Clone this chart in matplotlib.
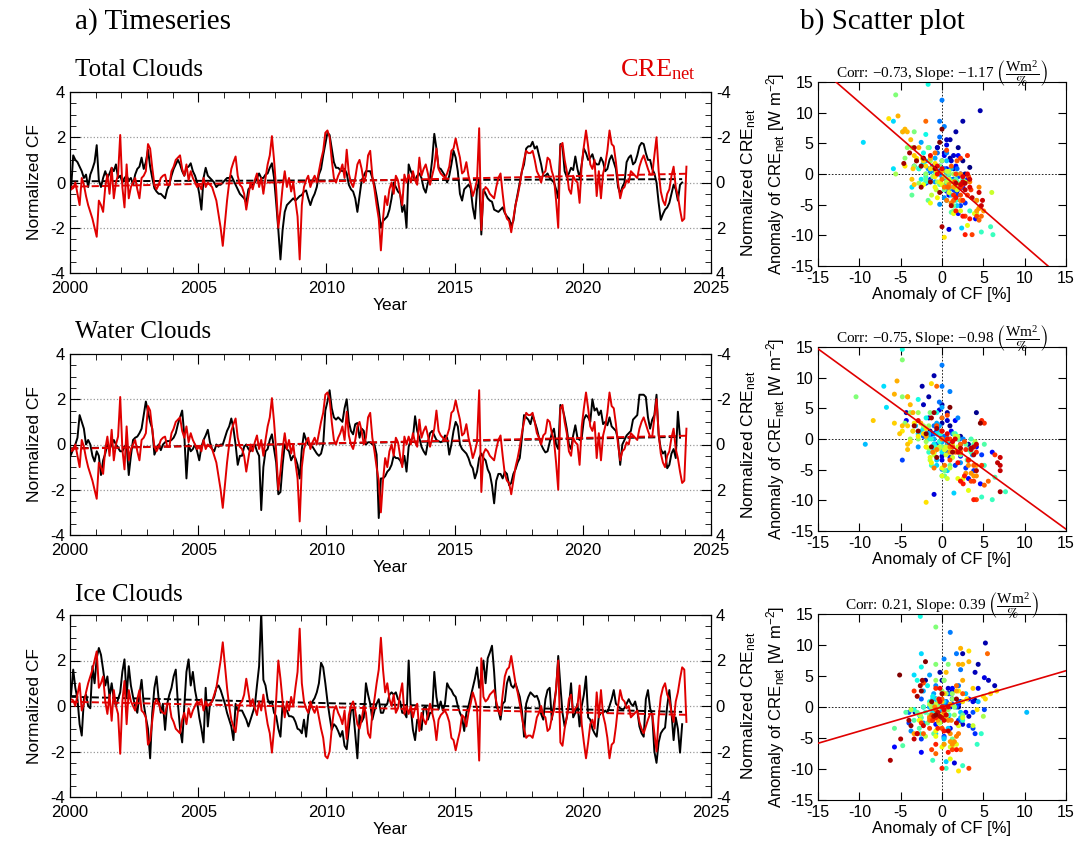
import numpy as np
import matplotlib
matplotlib.use('Agg')
import matplotlib.pyplot as plt
from matplotlib.ticker import MultipleLocator

nan = np.nan

# normalized cloud fraction, monthly from Jan 2000 (one row per year)
cf_total = [
    -0.3, 1.2, 1.0, 0.9, 0.7, 0.5, 0.2, 0.35, -0.2, 0.35, 0.6, 0.9,
    1.65, 0.1, -0.2, 0.2, 0.5, 0.2, 0.4, 0.65, 0.5, 0.8, 0.2, 0.3,
    0.0, 0.2, 0.3, 0.1, 0.2, -0.1, 0.35, 0.6, 0.7, 1.1, 0.6, 0.9,
    1.45, 0.7, 0.2, -0.25, -0.4, -0.5, -0.5, -0.6, -0.7, -0.3, -0.1, 0.3,
    0.6, 0.8, 1.0, 0.8, 0.5, 0.3, 0.65, 0.7, 0.85, 0.5, 0.3, 0.0,
    -0.5, -1.2, 0.2, 0.65, 0.3, 0.2, 0.1, 0.0, -0.2, -0.1, -0.1, 0.0,
    0.1, 0.2, 0.2, 0.3, 0.1, -0.1, -0.3, -0.5, -0.6, -0.7, -0.9, -0.3,
    -0.2, -0.1, 0.0, 0.2, 0.4, 0.2, 0.2, 0.35, 0.4, 0.65, 0.85, 0.2,
    -0.9, -2.1, -3.4, -2.1, -1.3, -1.0, -0.9, -0.8, -0.7, -0.8, -0.7, -0.6,
    -0.55, -0.4, -0.35, -0.7, -1.0, -0.7, -0.5, -0.2, 0.35, 0.6, 1.2, 1.7,
    2.2, 2.1, 1.5, 0.9, 0.65, 0.65, 0.55, 0.5, 0.6, 0.4, -0.1, -0.3,
    -0.4, -0.7, -1.3, -0.6, 0.1, 0.3, 0.5, 0.5, 0.5, 0.2, -0.1, -0.6,
    -1.2, -2.0, -1.7, -1.6, -1.5, -1.2, -0.7, 0.0, -0.2, -0.4, -0.5, -1.3,
    -1.0, -2.0, 0.8, 0.5, 0.3, 0.1, 0.3, 0.4, 0.2, -0.25, -0.45, 0.0,
    0.2, 1.0, 2.15, 1.5, 0.65, 0.6, 0.45, 0.3, 0.0, 0.3, 0.8, 1.4,
    1.1, 0.5, -0.5, -0.8, -0.3, -0.2, -0.1, -0.25, -1.1, -1.6, -0.3, 0.1,
    -2.3, -0.3, -0.5, -0.7, -0.8, -0.85, -1.2, -1.25, -1.3, -1.2, -1.1, -1.35,
    -1.5, -1.6, -1.9, -1.7, -1.0, -0.5, 0.0, 0.5, 0.8, 1.5, 1.6, 1.6,
    1.8, 1.5, 1.6, 1.2, 0.8, 0.3, 0.3, 0.4, 0.2, 0.1, 0.0, -0.3,
    -0.7, 1.7, 1.6, 0.5, 0.25, 0.4, 0.65, 0.55, 1.15, 0.6, 0.2, 0.8,
    1.5, 1.3, 1.0, 1.1, 1.25, 0.9, 0.8, 0.8, 1.1, 0.9, 0.5, 0.6,
    1.0, 1.2, 0.9, 0.6, -0.2, -0.5, -0.2, 0.0, 0.9, 1.1, 1.2, 0.8,
    0.9, 1.2, 1.6, 1.75, 1.7, 1.3, 1.0, 1.0, 0.6, 0.4, 0.0, -0.9,
    -1.65, -1.4, -1.2, -1.1, -0.9, -0.5, -0.1, -0.3, -0.8, -0.1, 0.0, nan,
    nan,
]

cf_water = [
    -0.45, -0.2, 0.0, 0.3, 1.3, 1.0, 0.7, 0.0, 0.2, 0.0, -0.5, -0.75,
    -0.3, -0.5, -1.35, -0.7, -0.4, 0.0, -0.2, 0.0, 0.2, 0.0, -0.15, -0.3,
    -0.3, -0.1, 0.0, -1.35, -0.5, 0.2, 0.3, 0.35, 0.5, 0.7, 1.3, 1.9,
    1.45, 1.0, 0.7, -0.45, -0.2, 0.0, -0.25, 0.0, 0.1, 0.15, 0.15, 0.2,
    0.3, 0.5, 0.9, 1.2, 1.5, 0.4, -1.5, 0.0, -0.3, -0.2, 0.0, -0.3,
    -0.7, -0.1, 0.2, 0.4, 0.65, 0.1, -0.2, -0.3, 0.0, -0.1, 0.0, 0.0,
    0.3, 0.6, 0.8, 1.15, 0.7, 0.0, -0.9, -0.5, -0.5, -0.1, 0.0, -0.2,
    -0.3, -0.1, 0.0, -0.3, -0.5, -2.9, -1.0, -0.3, -0.2, 0.2, 0.45, -0.2,
    -0.8, -2.2, -2.1, -0.9, 0.0, -0.2, -0.3, -0.7, -0.5, -0.6, -0.9, -1.5,
    -0.2, 0.5, 0.2, 0.0, -0.05, -0.1, -0.25, -0.4, -0.5, -0.4, 0.0, 1.5,
    1.9, 2.4, 1.6, 1.2, 1.1, 1.2, 1.1, 1.0, 1.6, 2.0, 1.0, 0.6,
    0.45, 0.9, 0.95, 0.3, 0.7, 0.6, 0.0, 0.1, 0.1, 0.0, 0.0, -0.45,
    -3.25, -1.5, -1.5, -1.4, -1.2, -1.1, -0.9, -0.5, -0.6, -0.6, -0.7, -0.9,
    -0.5, -1.2, -0.1, 0.2, 0.3, 1.25, 0.6, 0.3, -0.1, -0.3, -0.45, 0.1,
    0.5, 0.6, 0.4, 0.2, 0.15, 0.1, 0.15, 0.4, 0.3, -0.45, 0.0, 0.6,
    1.0, 0.8, 0.0, -0.2, -0.3, -0.4, -0.6, -0.9, -1.05, -1.5, -1.2, -0.6,
    -0.4, -0.6, -0.7, -1.1, -1.3, -1.8, -2.6, -1.6, -1.3, -1.3, -1.5, -1.2,
    -1.3, -1.8, -1.7, -1.3, -1.1, -0.8, -0.6, 0.3, 1.3, 1.2, 1.1, 0.9,
    1.3, 1.0, 0.7, 0.3, 0.0, -0.2, -0.35, -0.3, 0.1, 0.5, 0.7, 0.0,
    -0.2, 1.75, 1.6, 1.2, 0.7, 0.0, -0.2, 0.4, 0.85, 0.3, 0.2, 0.3,
    1.1, 1.3, 1.2, 1.0, 2.0, 1.5, 1.6, 1.3, 1.5, 0.9, 1.0, 0.85,
    1.2, 0.8, 0.7, 0.6, 0.2, -0.9, 0.0, 0.2, 0.4, 0.5, 0.6, 1.1,
    1.2, 1.3, 2.2, 2.2, 2.2, 2.1, 1.2, 0.7, 1.1, 1.3, 2.2, 0.4,
    -0.2, -0.4, -0.3, -1.05, -0.9, -0.4, -0.2, -0.6, 1.45, 0.3, nan, nan,
    nan,
]

cf_ice = [
    0.5, 1.6, 0.8, 0.3, -0.8, -1.3, 0.3, 0.5, 0.0, -0.1, 1.75, 1.0,
    2.1, 2.55, 2.25, 1.6, 0.9, 1.3, 0.4, 1.0, 0.3, 0.0, 0.3, 0.6,
    1.5, 2.05, 0.4, 1.75, 0.9, 0.4, 0.0, -0.3, 0.5, 1.15, 0.1, -0.5,
    -1.0, -2.3, -0.3, 0.8, 1.3, 0.3, -0.3, 0.1, -1.05, 0.1, 0.5, 0.8,
    1.3, 1.6, 0.1, -1.0, -1.6, 0.0, 1.5, 2.05, 0.9, 1.5, 0.7, 0.2,
    -0.5, -1.0, -1.6, 0.8, -0.9, 0.1, 0.2, 0.4, 0.8, 0.9, 0.7, 0.4,
    0.1, -0.3, -0.6, -0.9, -1.5, 0.1, -0.2, -0.2, -0.2, -0.4, -0.6, -0.9,
    -0.6, -0.3, 0.0, 0.9, 1.75, 4.1, 1.15, 0.9, 0.3, 0.1, 0.2, -0.3,
    -0.45, -1.0, -1.35, 0.1, -0.15, -0.2, -0.45, -0.45, -0.5, -0.7, -1.0, -1.05,
    -1.2, -0.6, -1.35, -0.4, 0.0, 0.2, 0.35, 0.6, 1.0, 1.9, 1.7, 1.0,
    0.2, -0.45, -1.05, -0.8, -0.9, -1.1, -1.35, -1.1, -1.75, -1.9, -1.0, -0.2,
    -0.15, -1.2, -2.3, -0.4, -0.7, -0.5, 1.0, 0.5, 0.1, -0.6, -0.2, 0.1,
    0.3, -0.3, -0.3, 0.0, 0.1, 0.5, 0.6, 0.5, 0.6, 0.3, 0.2, -0.3,
    -0.3, -0.5, 2.0, -0.1, -1.05, -1.5, -0.6, -0.8, -1.05, -0.1, 0.0, -0.6,
    -0.3, -0.3, 1.5, 0.4, -0.15, 0.2, -0.2, 0.1, 1.0, 0.8, 0.7, 0.5,
    0.4, 0.0, -0.3, -0.5, -1.1, -0.3, 0.0, 0.4, 0.8, 1.2, 1.7, 0.8,
    1.3, 2.0, 1.0, 2.1, 2.35, 2.65, 1.5, 0.0, -0.2, -0.6, 0.1, 0.2,
    1.0, 1.3, 0.9, 0.8, 1.0, 0.7, 0.4, -0.2, -1.35, 0.1, 0.4, 0.6,
    0.5, 0.4, 0.45, 0.2, -0.35, -0.6, 0.3, 0.7, 0.8, -0.6, 0.1, 0.7,
    2.2, 0.9, -0.3, -0.9, -0.5, 0.0, 1.0, -0.5, -0.3, 0.1, -0.9, 0.0,
    0.5, 1.3, -0.5, -0.6, -1.0, -1.2, -1.35, -0.45, -0.3, -0.3, -0.2, -0.3,
    0.0, 0.3, 0.7, 0.1, 0.0, -0.1, -0.15, -0.1, 0.1, 0.3, 0.1, 0.0,
    0.2, -0.2, -0.9, -1.2, -1.35, 0.3, 0.7, -0.1, -0.4, -2.0, -2.5, -1.6,
    -1.2, -1.05, -0.95, 0.0, 0.7, -0.3, -1.5, -0.5, -1.0, -2.05, -0.8, nan,
    nan,
]

# normalized CRE_net, the same monthly series in all three panels
cre_net = [
    0.3, 0.25, 0.0, 0.5, 1.0, -0.2, 0.1, 0.6, 1.0, 1.3, 1.6, 2.0,
    2.4, 0.8, 1.0, 1.3, 0.2, -0.35, 0.5, -0.65, 0.7, 0.0, -0.35, -2.1,
    0.2, 1.1, -0.8, 0.7, 0.2, 0.0, -0.2, 0.3, 0.7, -0.2, -0.3, -0.5,
    -1.7, -1.5, -0.65, 0.1, 0.3, 0.1, -0.2, -0.3, -0.35, 0.1, 0.1, -0.5,
    -0.7, -1.0, -1.1, -1.2, -0.6, -0.3, -0.8, -0.1, -0.5, -0.2, 0.0, 0.2,
    0.1, 0.3, -0.2, 0.2, 0.0, 0.1, 0.2, 0.5, 0.8, 1.4, 2.0, 2.8,
    1.8, 0.8, 0.0, -0.6, -0.9, -1.15, -0.3, 0.1, 0.2, 0.5, 1.2, 0.6,
    0.0, 0.3, -0.1, -0.4, 0.2, -0.2, 0.5, -0.2, -0.8, -1.2, -2.05, -1.0,
    0.3, 2.0, 1.2, 0.2, -0.5, 0.2, -0.2, 0.4, 0.0, 0.8, 1.5, 3.4,
    1.0, 0.2, -0.1, -0.3, 0.2, -0.1, -0.3, 0.0, -0.5, -1.0, -1.4, -2.2,
    -2.3, -2.0, -1.0, -0.2, 0.0, -0.3, -0.5, -0.8, -0.2, -1.45, -0.4, 0.0,
    0.2, -0.2, -0.8, -1.0, -0.6, 0.0, -0.3, -1.2, -1.4, -0.3, 0.3, 1.0,
    1.6, 3.0, 1.6, 0.6, 1.0, 0.3, 0.0, 0.5, -0.3, -0.1, 0.5, 1.0,
    -0.35, 0.0, -0.35, 0.0, -0.5, -0.1, 0.1, -1.1, -0.3, -0.6, -0.8, -0.4,
    0.1, -0.3, -0.7, -1.5, -0.6, -0.4, -0.3, -0.2, -0.4, -0.7, -1.4, -1.5,
    -1.95, -1.5, -1.1, -0.4, -0.5, -0.9, -0.3, 0.1, 0.6, 0.3, -0.1, -2.4,
    2.1, 0.4, 0.2, 0.3, 0.5, 0.6, 0.7, 0.2, -0.2, -0.4, 0.5, 1.3,
    1.6, 1.7, 2.2, 1.6, 1.0, 0.6, 0.1, -0.5, -1.0, -1.4, -1.3, -1.3,
    -1.4, -1.0, -0.5, -0.3, 0.0, -0.4, -0.5, -1.1, -1.0, -0.5, -0.2, 0.8,
    2.0, -1.6, -1.75, -1.0, -0.5, 0.3, 0.5, -0.3, -0.1, 0.0, 0.9, -0.8,
    -1.6, -2.3, -1.6, -0.8, -0.6, -1.0, 0.6, -0.5, 0.7, -0.4, -0.8, -1.4,
    -2.3, -1.7, -1.6, -0.9, 0.0, 0.7, 0.3, 0.2, -0.1, 0.0, -0.5, -0.4,
    -0.3, -0.2, -0.7, -1.0, -1.2, -0.9, -0.6, -0.35, -0.35, -1.2, -2.0, -0.5,
    0.4, 0.8, 1.0, 0.5, 0.3, -0.3, -0.7, 0.2, 0.6, 1.2, 1.7, 1.6,
    -0.7,
]

panel_names = ['Total Clouds', 'Water Clouds', 'Ice Clouds']
corr_vals = ['\u22120.73', '\u22120.75', '0.21']
slope_text = ['\u22121.17', '\u22120.98', '0.39']
slope_vals = [-1.17, -0.98, 0.39]
cf_std = [2.8, 3.2, 2.5]      # % per normalized unit
cre_std = 4.3                 # W m-2 per normalized unit
cre_inverted = [True, True, False]

RED = '#e00000'
SANS = 'Liberation Sans'
SERIF = 'Liberation Serif'
plt.rcParams['font.family'] = SANS
plt.rcParams['mathtext.fontset'] = 'stix'
plt.rcParams['axes.unicode_minus'] = False

W, H = 1078, 842
fig = plt.figure(figsize=(W / 100, H / 100), dpi=100)


def px_axes(l, t, r, b):
    return fig.add_axes([l / W, 1 - b / H, (r - l) / W, (b - t) / H])


def px_text(x, y, s, **kw):
    fig.text(x / W, 1 - y / H, s, **kw)


time = 2000 + (np.arange(len(cre_net)) + 0.5) / 12.0
cre = np.array(cre_net, dtype=float)
all_cf = [np.array(cf_total, dtype=float), np.array(cf_water, dtype=float),
          np.array(cf_ice, dtype=float)]

ts_boxes = [(70, 92, 711, 273), (70, 354, 711, 535), (70, 615, 711, 797)]
sc_boxes = [(818, 82, 1066, 266), (818, 347, 1066, 531), (818, 614, 1066, 800)]
title_y = [70, 332, 595]

px_text(75, 22, 'a) Timeseries', family=SERIF, fontsize=21, va='center')
px_text(800, 22, 'b) Scatter plot', family=SERIF, fontsize=21, va='center')

for i in range(3):
    cf = all_cf[i]
    ok = ~np.isnan(cf)

    # ---- timeseries ----
    ax = px_axes(*ts_boxes[i])
    for yy in (-2, 0, 2):
        ax.axhline(yy, color='0.6', ls=':', lw=0.9, zorder=0)
    ax.plot(time, cf, color='black', lw=1.4)
    p = np.polyfit(time[ok], cf[ok], 1)
    ax.plot(time[ok], np.polyval(p, time[ok]), color='black', ls='--', lw=1.4)
    ax.set_xlim(2000, 2025)
    ax.set_ylim(-4, 4)
    ax.xaxis.set_major_locator(MultipleLocator(5))
    ax.xaxis.set_minor_locator(MultipleLocator(1))
    ax.yaxis.set_major_locator(MultipleLocator(2))
    ax.yaxis.set_minor_locator(MultipleLocator(0.5))
    ax.tick_params(which='both', direction='in', top=True, right=False, labelsize=12)
    ax.tick_params(axis='x', pad=6)
    ax.tick_params(which='major', length=7)
    ax.tick_params(which='minor', length=4)
    ax.set_ylabel('Normalized CF', fontsize=12.5, labelpad=6)
    ax.set_xlabel('Year', fontsize=12.5, labelpad=1)

    ax2 = ax.twinx()
    ax2.plot(time, cre, color=RED, lw=1.4)
    q = np.polyfit(time, cre, 1)
    ax2.plot(time, np.polyval(q, time), color=RED, ls='--', lw=1.4)
    if cre_inverted[i]:
        ax2.set_ylim(4, -4)
    else:
        ax2.set_ylim(-4, 4)
    ax2.yaxis.set_major_locator(MultipleLocator(2))
    ax2.yaxis.set_minor_locator(MultipleLocator(0.5))
    ax2.tick_params(which='both', direction='in', labelsize=12)
    ax2.tick_params(which='major', length=7)
    ax2.tick_params(which='minor', length=4)
    ax2.set_ylabel(r'Normalized CRE$\mathregular{_{net}}$', fontsize=12.5, labelpad=6)

    px_text(75, title_y[i], panel_names[i], family=SERIF, fontsize=18, va='center')

    # ---- scatter ----
    sx = px_axes(*sc_boxes[i])
    xs = cf[ok] * cf_std[i]
    ys = cre[ok] * cre_std
    sx.axhline(0, color='black', ls=(0, (2, 2)), lw=0.6, zorder=0)
    sx.axvline(0, color='black', ls=(0, (2, 2)), lw=0.6, zorder=0)
    sx.scatter(xs, ys, c=time[ok], cmap='jet', s=13, linewidths=0, zorder=2)
    xl = np.array([-15, 15])
    sx.plot(xl, slope_vals[i] * xl, color=RED, lw=1.2, zorder=3)
    sx.set_xlim(-15, 15)
    sx.set_ylim(-15, 15)
    sx.xaxis.set_major_locator(MultipleLocator(5))
    sx.yaxis.set_major_locator(MultipleLocator(5))
    sx.tick_params(direction='in', top=True, right=True, length=6, labelsize=11.5)
    sx.set_xlabel('Anomaly of CF [%]', fontsize=12, labelpad=1)
    sx.set_ylabel(r'Anomaly of CRE$\mathregular{_{net}}$ [W m$\mathregular{^{-2}}$]',
                  fontsize=12, labelpad=2)
    sx.set_title('Corr: ' + corr_vals[i] + ', Slope: ' + slope_text[i] + ' '
                 + r'$\left(\dfrac{\mathregular{Wm^2}}{\%}\right)$',
                 family=SERIF, fontsize=11, pad=3)

px_text(620, 70, r'CRE$\mathregular{_{net}}$', family=SERIF, fontsize=19,
        color=RED, va='center')

fig.savefig('out.png', dpi=100)
